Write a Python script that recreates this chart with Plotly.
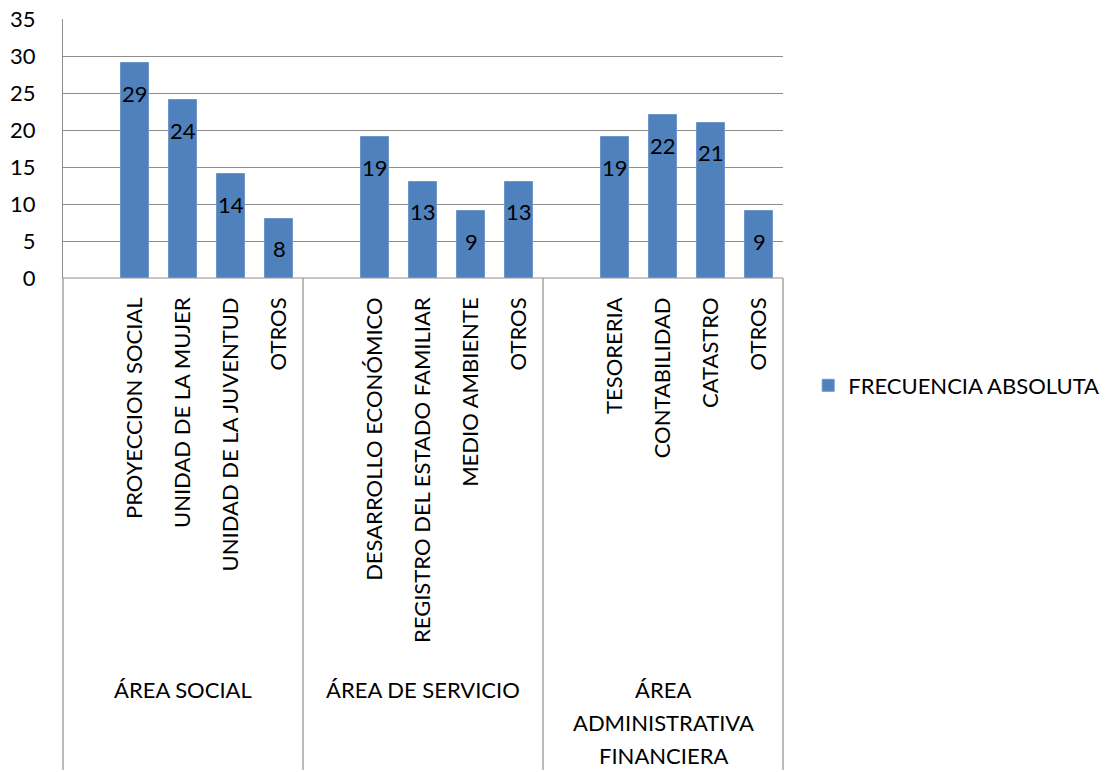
import plotly.graph_objects as go

# Categories per area; an empty leading slot in each area keeps the gap before the first bar
groups = ["ÁREA SOCIAL", "ÁREA DE SERVICIO", "ÁREA\nADMINISTRATIVA\nFINANCIERA"]
social = ["PROYECCION SOCIAL", "UNIDAD DE LA MUJER", "UNIDAD DE LA JUVENTUD", "OTROS"]
servicio = ["DESARROLLO ECONÓMICO", "REGISTRO DEL ESTADO FAMILIAR", "MEDIO AMBIENTE", "OTROS"]
administrativa = ["TESORERIA", "CONTABILIDAD", "CATASTRO", "OTROS"]
social_vals = [29, 24, 14, 8]
servicio_vals = [19, 13, 9, 13]
administrativa_vals = [19, 22, 21, 9]
y_ticks = [0, 5, 10, 15, 20, 25, 30, 35]

FONT = "Lato"
BLUE = "#4F81BD"
GRID = "#8E8E8E"
FS = 22

labels, values, xpos = [], [], []
for g, (cats, vals) in enumerate([(social, social_vals), (servicio, servicio_vals),
                                  (administrativa, administrativa_vals)]):
    for i, (c, v) in enumerate(zip(cats, vals)):
        xpos.append(g * 5 + 1 + i)
        labels.append(c)
        values.append(v)

fig = go.Figure()
fig.add_trace(go.Bar(
    x=xpos, y=values, width=0.58, name="FRECUENCIA ABSOLUTA",
    marker=dict(color=BLUE, line=dict(color="#6E96CC", width=1)),
    showlegend=True,
))

# value labels just inside the top of each bar
for x, v in zip(xpos, values):
    fig.add_annotation(x=x, y=v, xref="x", yref="y", text=str(v), showarrow=False,
                       yanchor="middle", yshift=-30,
                       font=dict(family=FONT, size=FS, color="#000000"))

# area names below the rotated category labels, one annotation per text line
for g, name in enumerate(groups):
    for k, line in enumerate(name.split("\n")):
        fig.add_annotation(x=g * 5 + 2, xref="x", y=-1.59, yref="paper", text=line,
                           showarrow=False, yanchor="middle", yshift=-33 * k,
                           font=dict(family=FONT, size=FS, color="#000000"))

# divider lines of the multi-level category axis
for xp in [0, 1 / 3, 2 / 3, 1]:
    fig.add_shape(type="line", xref="paper", yref="paper", x0=xp, x1=xp,
                  y0=0, y1=-1.90, line=dict(color=GRID, width=1.2))

fig.update_layout(
    width=1115, height=772,
    margin=dict(l=63, r=332, t=19, b=494, autoexpand=False),
    plot_bgcolor="white", paper_bgcolor="white",
    font=dict(family=FONT, size=FS, color="#000000"),
    bargap=0,
    legend=dict(x=1.035, y=-0.415, xanchor="left", yanchor="middle",
                font=dict(family=FONT, size=FS, color="#000000"),
                itemwidth=30, bgcolor="rgba(0,0,0,0)"),
    xaxis=dict(range=[-0.5, 14.5], tickmode="array", tickvals=xpos, ticktext=labels,
               tickangle=-90, showgrid=False, zeroline=False, showline=False,
               ticks="", ticklabelstandoff=14, automargin=False,
               tickfont=dict(family=FONT, size=FS, color="#000000")),
    yaxis=dict(range=[0, 35], tickmode="array", tickvals=y_ticks,
               showgrid=True, gridcolor=GRID, gridwidth=1, zeroline=False,
               showline=True, linecolor=GRID, linewidth=1, ticks="",
               ticklabelstandoff=22, automargin=False,
               tickfont=dict(family=FONT, size=FS, color="#000000")),
)
# x-axis baseline
fig.add_shape(type="line", xref="paper", yref="paper", x0=0, x1=1, y0=0, y1=0,
              line=dict(color=GRID, width=1.2))

fig.write_html("out.html")
